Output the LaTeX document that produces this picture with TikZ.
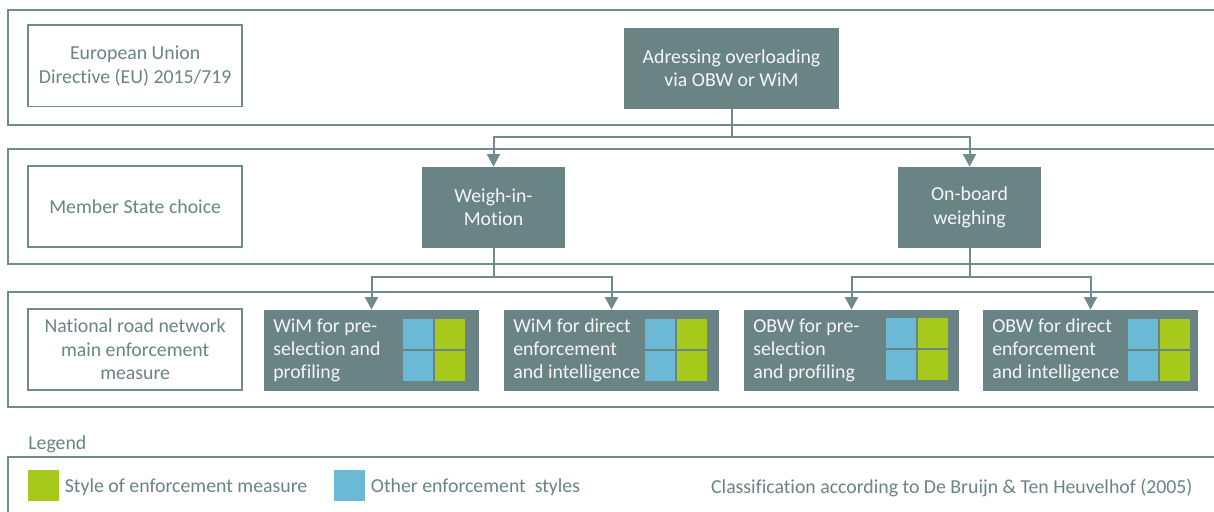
\documentclass[tikz,border=0pt]{standalone}
\usepackage{fontspec}
\setmainfont{Carlito}[Ligatures=NoCommon]
\usetikzlibrary{arrows.meta,calc}
\definecolor{slate}{HTML}{6A8486}
\definecolor{rulecol}{HTML}{6F8B8C}
\definecolor{skyblue}{HTML}{6CB9D5}
\definecolor{lime}{HTML}{A6C91C}
\definecolor{paper}{HTML}{F4F6F6}

% 2x2 grid of style squares, top-left corner given in px
\newcommand\stylegrid[2]{%
  \fill[skyblue] (#1,#2) rectangle ++(30,30);
  \fill[lime] ($(#1,#2)+(31.5,0)$) rectangle ++(30,30);
  \fill[skyblue] ($(#1,#2)+(0,31.5)$) rectangle ++(30,30);
  \fill[lime] ($(#1,#2)+(31.5,31.5)$) rectangle ++(30,30);
}

\begin{document}
\begin{tikzpicture}[x=0.5pt,y=-0.5pt,
  font=\fontsize{9.9pt}{11.7pt}\selectfont,
  band/.style={draw=rulecol,line width=1pt},
  labelbox/.style={draw=rulecol,line width=0.9pt,text=slate,align=center,inner sep=0pt,
    minimum width=107.15pt,minimum height=40.7pt},
  darkbox/.style={fill=slate,text=paper,align=center,inner sep=0pt,minimum height=40.35pt},
  widebox/.style={darkbox,minimum width=107.5pt},
  narrowbox/.style={darkbox,minimum width=71.5pt},
  boxtext/.style={text=paper,align=left,inner sep=0pt,anchor=west},
  legendtext/.style={text=slate,inner sep=0pt},
  link/.style={draw=rulecol,line width=1pt,-{Triangle[width=6.5pt,length=6.3pt]}}]

\useasboundingbox (0,0) rectangle (1214,511);
\fill[white] (0,0) rectangle (1214,511);
\clip (0,0) rectangle (1214,511);

% level bands
\draw[band] (7.5,10.3) rectangle (1240,125.3);
\draw[band] (7.5,149) rectangle (1240,264.3);
\draw[band] (7.5,292) rectangle (1240,406.7);
\draw[band] (7.5,456.7) rectangle (1240,540);

% level labels
\node[labelbox] (eu) at (135.15,65.85) {European Union\\Directive (EU) 2015/719};
\node[labelbox] (ms) at (135.15,206.65) {Member State choice};
\node[labelbox] (nat) at (135.15,349.35) {National road network\\main enforcement\\measure};

% decision tree
\node[widebox] (top) at (731.5,68.35) {Adressing overloading\\via OBW or WiM};
\node[narrowbox] (wim) at (493.5,207.35) {Weigh-in-\\Motion};
\node[narrowbox] (obw) at (969.5,207.35) {On-board\\weighing};

\node[widebox] (wpre) at (371.5,350.35) {};
\node[widebox] (wdir) at (611.5,350.35) {};
\node[widebox] (opre) at (851.5,350.35) {};
\node[widebox] (odir) at (1090.5,350.35) {};

\node[boxtext] (wpret) at ($(wpre.west)+(9.3,0)$) {WiM for pre-\\selection and\\profiling};
\node[boxtext] (wdirt) at ($(wdir.west)+(9.3,0)$) {WiM for direct\\enforcement\\and intelligence};
\node[boxtext] (opret) at ($(opre.west)+(9.3,0)$) {OBW for pre-\\selection\\and profiling};
\node[boxtext] (odirt) at ($(odir.west)+(9.3,0)$) {OBW for direct\\enforcement\\and intelligence};

\stylegrid{403.3}{319}
\stylegrid{645.3}{319}
\stylegrid{886}{318}
\stylegrid{1128.3}{319}

% connectors
\draw[link] (top.south) -- ++(0,28) -| (wim.north);
\draw[link] (top.south) -- ++(0,28) -| (obw.north);
\draw[link] (wim.south) -- ++(0,29) -| (wpre.north);
\draw[link] (wim.south) -- ++(0,29) -| (wdir.north);
\draw[link] (obw.south) -- ++(0,29) -| (opre.north);
\draw[link] (obw.south) -- ++(0,29) -| (odir.north);

% legend
\node[legendtext,anchor=base west] (legtitle) at (28,449.3) {Legend};
\fill[lime] (28,470) rectangle (59,500.7);
\node[legendtext,anchor=base west] (legown) at (64.5,492.7) {Style of enforcement measure};
\fill[skyblue] (334,470) rectangle (364.6,500.7);
\node[legendtext,anchor=base west] (legother) at (370.5,492.7) {Other enforcement~~styles};
\node[legendtext,anchor=base east] (legsrc) at (1193,493.3) {Classification according to De Bruijn \& Ten Heuvelhof (2005)};
\end{tikzpicture}
\end{document}
